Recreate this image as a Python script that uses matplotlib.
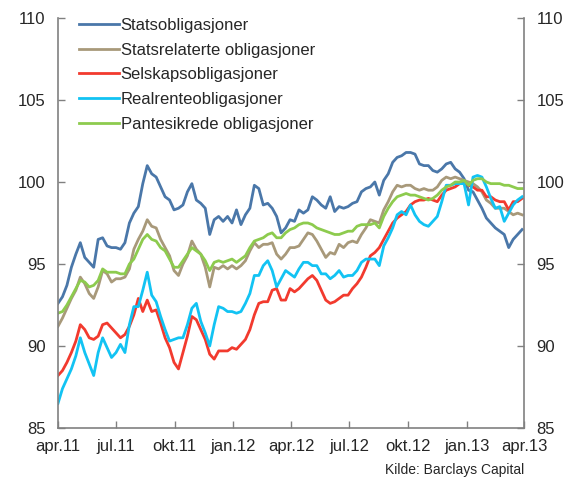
import matplotlib
matplotlib.use("Agg")
import matplotlib.pyplot as plt
import pandas as pd

plt.rcParams['font.family'] = ['Liberation Sans', 'DejaVu Sans']

# weekly observations, apr.2011 - apr.2013
dates = pd.date_range('2011-04-01', periods=105, freq='7D')

stats = [92.6, 93.0, 93.7, 94.8, 95.6, 96.3, 95.4, 95.1, 94.8, 96.5,
         96.6, 96.1, 96.0, 96.0, 95.9, 96.3, 97.5, 98.1, 98.5, 99.9,
         101.0, 100.5, 100.3, 99.7, 99.1, 98.9, 98.3, 98.4, 98.6, 99.4,
         99.9, 98.9, 98.7, 98.4, 96.8, 97.7, 97.9, 97.6, 97.9, 97.5,
         98.3, 97.4, 98.0, 98.4, 99.8, 99.6, 98.6, 98.7, 98.4, 97.9,
         96.9, 97.2, 97.7, 97.6, 98.3, 98.1, 98.3, 99.1, 98.9, 98.6,
         98.4, 99.1, 98.2, 98.5, 98.4, 98.5, 98.7, 98.8, 99.4, 99.6,
         99.7, 100.0, 99.2, 100.1, 100.5, 101.2, 101.5, 101.6, 101.8, 101.8,
         101.7, 101.1, 101.0, 101.0, 100.7, 100.6, 100.8, 101.1, 101.2, 100.8,
         100.6, 100.2, 99.5, 99.4, 98.9, 98.4, 97.8, 97.5, 97.2, 97.0,
         96.8, 96.0, 96.5, 96.8, 97.1]

statsrel = [91.2, 91.7, 92.3, 92.9, 93.4, 94.2, 93.8, 93.2, 92.9, 93.6,
            94.6, 94.4, 93.9, 94.1, 94.1, 94.2, 94.7, 95.9, 96.5, 97.0,
            97.7, 97.3, 97.2, 96.5, 96.0, 95.5, 94.6, 94.3, 95.0, 95.5,
            96.4, 95.9, 95.6, 94.8, 93.6, 94.8, 94.7, 94.9, 94.7, 94.9,
            94.7, 94.9, 95.2, 95.8, 96.3, 96.0, 96.2, 96.2, 96.3, 95.6,
            95.3, 95.6, 96.0, 96.0, 96.1, 96.5, 96.9, 96.8, 96.4, 95.9,
            95.4, 95.7, 95.6, 96.2, 96.0, 96.3, 96.4, 96.3, 96.8, 97.2,
            97.7, 97.6, 97.5, 98.3, 98.8, 99.4, 99.8, 99.7, 99.8, 99.8,
            99.6, 99.5, 99.6, 99.5, 99.5, 99.7, 100.1, 100.3, 100.2, 100.3,
            100.2, 100.1, 100.0, 99.9, 99.7, 99.4, 98.9, 98.7, 98.4, 98.4,
            98.4, 98.2, 98.0, 98.1, 98.0]

selskap = [88.2, 88.5, 89.0, 89.6, 90.3, 91.3, 91.0, 90.5, 90.4, 90.6,
           91.3, 91.4, 91.1, 90.8, 90.5, 90.7, 91.2, 91.9, 92.9, 92.1,
           92.8, 92.1, 92.2, 91.4, 90.5, 89.9, 89.0, 88.6, 89.6, 90.6,
           91.8, 91.6, 91.0, 90.4, 89.5, 89.2, 89.7, 89.7, 89.7, 89.9,
           89.8, 90.1, 90.4, 91.0, 91.9, 92.6, 92.7, 92.7, 93.4, 93.5,
           92.8, 92.8, 93.5, 93.3, 93.5, 93.8, 94.1, 94.3, 94.0, 93.4,
           92.8, 92.6, 92.7, 92.9, 93.1, 93.1, 93.5, 93.8, 94.2, 94.8,
           95.5, 95.7, 96.0, 96.5, 97.0, 97.5, 97.8, 98.0, 98.2, 98.6,
           98.8, 98.9, 98.9, 99.0, 98.9, 98.8, 99.2, 99.5, 99.6, 99.7,
           99.9, 100.0, 99.8, 99.7, 99.5, 99.5, 99.1, 99.1, 98.9, 98.8,
           98.8, 98.3, 98.8, 98.8, 99.0]

realrente = [86.5, 87.4, 88.0, 88.6, 89.4, 90.5, 89.6, 88.9, 88.2, 89.6,
             90.5, 89.9, 89.3, 89.6, 90.1, 89.6, 91.3, 92.4, 92.4, 93.4,
             94.5, 93.1, 92.7, 91.8, 91.0, 90.3, 90.4, 90.5, 90.5, 91.3,
             92.3, 92.6, 91.5, 90.8, 90.0, 91.3, 92.4, 92.3, 92.1, 92.1,
             92.0, 92.1, 92.6, 93.2, 94.3, 94.3, 94.9, 95.2, 94.6, 93.6,
             94.1, 94.6, 94.4, 94.2, 94.7, 95.1, 95.1, 94.9, 94.9, 94.4,
             94.4, 94.1, 94.3, 94.6, 94.2, 94.3, 94.3, 94.6, 95.1, 95.3,
             95.3, 95.3, 94.9, 96.1, 96.6, 97.2, 98.0, 98.2, 98.0, 98.6,
             98.0, 97.6, 97.4, 97.3, 97.6, 97.9, 98.8, 99.8, 99.8, 99.9,
             99.9, 99.9, 98.6, 100.3, 100.4, 100.3, 99.7, 99.0, 98.4, 98.5,
             97.6, 98.1, 98.6, 98.9, 99.1]

pantesikrede = [92.0, 92.1, 92.5, 93.0, 93.5, 94.0, 93.9, 93.6, 93.7, 94.0,
                94.7, 94.5, 94.5, 94.5, 94.4, 94.4, 95.0, 95.3, 95.9, 96.5,
                96.8, 96.5, 96.4, 96.0, 95.8, 95.3, 94.8, 94.8, 95.2, 95.6,
                96.0, 95.8, 95.6, 95.2, 94.6, 95.1, 95.2, 95.1, 95.2, 95.3,
                95.1, 95.3, 95.5, 96.0, 96.4, 96.5, 96.6, 96.8, 96.9, 96.6,
                96.6, 96.9, 97.1, 97.2, 97.4, 97.5, 97.5, 97.4, 97.2, 97.1,
                97.0, 96.9, 96.8, 96.8, 96.9, 97.0, 97.0, 97.3, 97.4, 97.4,
                97.4, 97.5, 97.2, 97.9, 98.4, 98.8, 99.1, 99.2, 99.3, 99.2,
                99.2, 99.1, 99.0, 98.9, 99.0, 99.2, 99.5, 99.7, 99.8, 100.0,
                100.0, 100.1, 99.8, 100.1, 100.2, 100.2, 100.0, 99.9, 99.9, 99.9,
                99.8, 99.8, 99.7, 99.6, 99.6]

series_names = ['Statsobligasjoner', 'Statsrelaterte obligasjoner',
                'Selskapsobligasjoner', 'Realrenteobligasjoner',
                'Pantesikrede obligasjoner']
series_values = [stats, statsrel, selskap, realrente, pantesikrede]
colors = ['#4A77A9', '#A8997A', '#F23A2E', '#12C3F3', '#8DCB4E']

tick_dates = pd.to_datetime(['2011-04-01', '2011-07-01', '2011-10-01', '2012-01-01',
                             '2012-04-01', '2012-07-01', '2012-10-01', '2013-01-01',
                             '2013-04-01'])
tick_labels = ['apr.11', 'jul.11', 'okt.11', 'jan.12', 'apr.12', 'jul.12',
               'okt.12', 'jan.13', 'apr.13']
y_ticks = [85, 90, 95, 100, 105, 110]

fig = plt.figure(figsize=(5.72, 4.79), dpi=100)
ax = fig.add_axes([58 / 572, 1 - 428 / 479, 466 / 572, 410 / 479])

for name, vals, c in zip(series_names, series_values, colors):
    ax.plot(dates, vals, color=c, lw=2.0, label=name, solid_joinstyle='round')

ax.set_xlim(tick_dates[0], tick_dates[-1])
ax.set_ylim(85, 110)
ax.set_xticks(tick_dates)
ax.set_xticklabels(tick_labels)
ax.set_yticks(y_ticks)
ax.set_yticklabels([str(v) for v in y_ticks])

gray = '#808080'
for s in ['left', 'right', 'bottom']:
    ax.spines[s].set_color(gray)
    ax.spines[s].set_linewidth(1.2)
ax.spines['top'].set_visible(False)

ax.tick_params(axis='both', direction='in', length=5, width=1, color=gray,
               labelsize=12, labelcolor='#262626')
ax.tick_params(axis='y', left=True, right=True, labelleft=True, labelright=True, pad=9)
ax.tick_params(axis='x', pad=8)

leg = ax.legend(loc='upper left', bbox_to_anchor=(0.045, 1.0), frameon=False,
                fontsize=12, handlelength=2.4, handletextpad=0.1,
                labelspacing=0.58, borderaxespad=0, borderpad=0)
for t in leg.get_texts():
    t.set_color('#262626')

fig.text(524 / 572, 1 - 470 / 479, 'Kilde: Barclays Capital', ha='right', va='center',
         fontsize=10, color='#262626')

fig.savefig('out.png', dpi=100)
